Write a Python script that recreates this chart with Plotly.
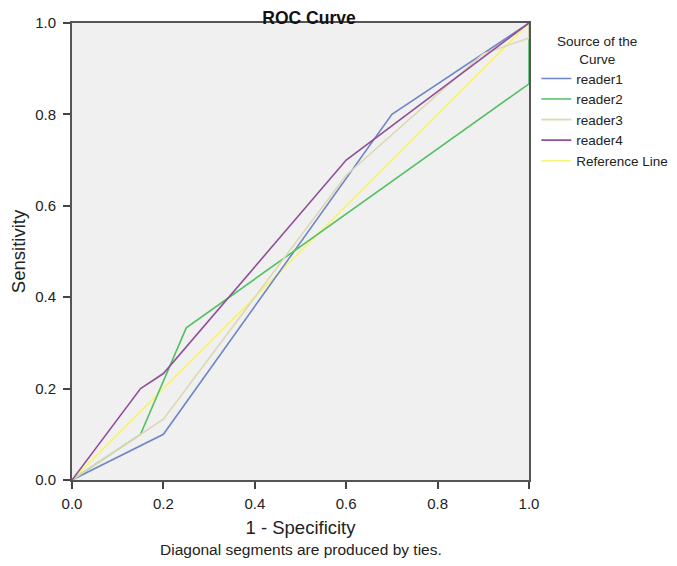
import plotly.graph_objects as go

# ROC points (1 - specificity, sensitivity)
reader1_x = [0, 0.2, 0.7, 1.0]
reader1_y = [0, 0.1, 0.8, 1.0]
reader2_x = [0, 0.15, 0.25, 1.0, 1.0]
reader2_y = [0, 0.1, 0.333, 0.867, 1.0]
reader3_x = [0, 0.15, 0.2, 0.6, 0.9, 1.0, 1.0]
reader3_y = [0, 0.1, 0.133, 0.667, 0.933, 0.967, 1.0]
reader4_x = [0, 0.15, 0.2, 0.6, 1.0]
reader4_y = [0, 0.2, 0.233, 0.7, 1.0]
ref_x = [0, 1]
ref_y = [0, 1]

names = ['reader1', 'reader2', 'reader3', 'reader4', 'Reference Line']
colors = ['#6f86c6', '#52c062', '#dcd7b4', '#904f98', '#f7f27c']
xs = [reader1_x, reader2_x, reader3_x, reader4_x, ref_x]
ys = [reader1_y, reader2_y, reader3_y, reader4_y, ref_y]
ticks = [0, 0.2, 0.4, 0.6, 0.8, 1.0]
tick_text = ['0.0', '0.2', '0.4', '0.6', '0.8', '1.0']

# the page puts the figure 8px in from the corner, so margins are trimmed by 8
# (the figure is a bit wider than the window so the legend doesn't squeeze the plot)
W, H = 700, 566
L, T, PW = 64, 15, 457

fig = go.Figure()
# reference line drawn first so readers sit on top
order = [4, 0, 1, 2, 3]
for i in order:
    fig.add_trace(go.Scatter(x=xs[i], y=ys[i], mode='lines', name=names[i],
                             line=dict(color=colors[i], width=1.6),
                             legendrank=i + 1))

fig.update_layout(
    width=W, height=H,
    margin=dict(l=L, r=W - L - PW, t=T, b=H - T - PW),
    paper_bgcolor='white',
    plot_bgcolor='#f0f0f0',
    font=dict(family='Liberation Sans, Arial, sans-serif', color='#222', size=15),
    title=dict(text='<b>ROC Curve</b>', xref='container', x=301 / W, xanchor='center',
               yref='container', y=1 - 10 / H, yanchor='middle',
               font=dict(size=17.5, color='#111')),
    legend=dict(x=1.016, y=0.912, xanchor='left', yanchor='top',
                font=dict(size=13.5), bgcolor='rgba(0,0,0,0)',
                itemwidth=30, tracegroupgap=0),
    showlegend=True,
)
fig.update_xaxes(range=[0, 1], tickvals=ticks, ticktext=tick_text,
                 ticks='outside', ticklen=7, tickcolor='#444', tickwidth=2,
                 ticklabelstandoff=2,
                 showline=True, linecolor='#555', linewidth=2, mirror=True,
                 showgrid=False, zeroline=False, automargin=False,
                 title=dict(text='1 - Specificity', font=dict(size=18.5), standoff=10))
fig.update_yaxes(range=[0, 1], tickvals=ticks, ticktext=tick_text,
                 ticks='outside', ticklen=7, tickcolor='#444', tickwidth=2,
                 ticklabelstandoff=4,
                 showline=True, linecolor='#555', linewidth=2, mirror=True,
                 showgrid=False, zeroline=False, automargin=False,
                 title=dict(text='Sensitivity', font=dict(size=18.5), standoff=8))

# legend heading, centred above the items as in the original
fig.add_annotation(text='Source of the<br>Curve', xref='paper', yref='paper',
                   x=(589 - L) / PW, y=(T + PW - 43) / PW, xanchor='center',
                   yanchor='middle', align='center', showarrow=False,
                   font=dict(size=13.5, color='#222'))
fig.add_annotation(text='Diagonal segments are produced by ties.',
                   xref='paper', yref='paper', x=0.5, y=-69 / PW,
                   xanchor='center', yanchor='middle', showarrow=False,
                   font=dict(size=15.5, color='#222'))

fig.write_html("out.html")
